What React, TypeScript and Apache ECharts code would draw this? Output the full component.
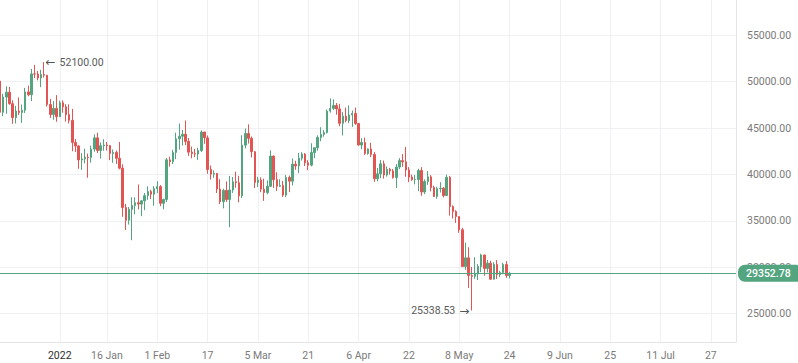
import React, { useEffect, useRef } from "react";
import * as echarts from "echarts";

const startDate = "2021-12-13";
const dayCount = 235;

const opens = [
  50053, 46702, 48336, 48864, 47632, 46133, 46835, 46681, 46915, 48896, 48588, 50838, 50820, 50400, 50775, 50701, 47543, 46464, 47120,
  46216, 47722, 47286, 46446, 45832, 43451, 43082, 41566, 41679, 41864, 41822, 42735, 43949, 42591, 43099, 43177, 43113, 42250, 42375, 41744, 40680, 36446, 35071, 36244, 36660, 36958, 36810, 37161, 37712, 38166, 37881,
  38466, 38694, 36896, 37311, 41571, 41382, 42380, 43840, 44118, 44339, 43565, 42408, 42244, 42197, 42586, 44578, 43938, 40552, 40030, 40122, 38431, 37069, 38286, 37296, 38328, 39219, 39116, 37699,
  43161, 44421, 43892, 42454, 39148, 39397, 38420, 38059, 38732, 41982, 39440, 38730, 38807, 37777, 39672, 39283, 41114, 40917, 41757, 42201, 41262, 41002, 42364, 42882, 43991, 44313, 44511, 46827, 47122, 47434, 47067,
  45510, 46283, 45811, 46407, 46580, 45497, 43170, 43444, 42252, 42753, 42158, 39530, 40075, 41147, 39942, 40552, 40378, 39678, 40801, 41494, 41371, 40481, 39710, 39442, 39450, 40427, 38112, 39236, 39743, 38597,
  37630, 38469, 38525, 37728, 39690, 36552, 36013, 35472, 34038, 30075, 31017, 29103, 29030, 29287, 30086, 31328, 29874, 30444, 28716, 30319, 29201, 29445, 30293, 29109,
];
const closes = [
  46702, 48343, 48864, 47632, 46131, 46834, 46681, 46915, 48896, 48588, 50838, 50820, 50400, 50775, 50701, 47543, 46464, 47120, 46216,
  47722, 47286, 46446, 45832, 43451, 43082, 41566, 41679, 41864, 41822, 42735, 43949, 42591, 43099, 43177, 43113, 42250, 42375, 41744, 40680, 36445, 35071, 36244, 36660, 36958, 36810, 37161, 37712, 38166, 37881, 38466,
  38694, 36896, 37311, 41575, 41382, 42380, 43840, 44118, 44339, 43565, 42407, 42244, 42197, 42586, 44575, 43961, 40538, 40030, 40122, 38431, 37075, 38286, 37296, 38328, 39219, 39116, 37699, 43160,
  44421, 43892, 42454, 39148, 39397, 38420, 38062, 38737, 41982, 39437, 38730, 38807, 37777, 39672, 39281, 41114, 40917, 41757, 42201, 41262, 41002, 42364, 42882, 43991, 44313, 44511, 46827, 47122, 47434, 47067, 45510,
  46283, 45811, 46407, 46580, 45497, 43170, 43444, 42252, 42753, 42158, 39530, 40074, 41147, 39942, 40551, 40378, 39678, 40801, 41493, 41358, 40480, 39710, 39442, 39450, 40427, 38112, 39236, 39742, 38597, 37630,
  38468, 38525, 37728, 39690, 36552, 36013, 35472, 34038, 30076, 31017, 29103, 29030, 29287, 30086, 31328, 29874, 30444, 28715, 30319, 29201, 29445, 30293, 29109, 29352.78,
];
const highs = [
  50189, 48700, 49500, 49436, 47995, 47392, 48300, 47537, 49328, 49576, 51375, 51810, 51156, 51281, 52100, 50704, 48139, 47900, 48548,
  47954, 47990, 47570, 47557, 47070, 43816, 43145, 42300, 42786, 42248, 43100, 44322, 44500, 43448, 43800, 43500, 43179, 42691, 42590, 43505, 41100, 36835, 36499, 37550, 37545, 38919, 37234, 38000, 38720, 38359, 38744,
  39265, 38855, 37387, 41772, 41913, 42656, 44500, 45492, 44798, 45821, 43920, 43000, 42760, 42876, 44751, 44578, 44200, 40960, 40443, 40145, 39494, 38470, 39249, 39843, 39727, 40300, 39855, 44226,
  44949, 45400, 44102, 42527, 39752, 39693, 39547, 39362, 42594, 42039, 40236, 39486, 39310, 39947, 39887, 41718, 41478, 42325, 42400, 42296, 41544, 43361, 42893, 44220, 45094, 44792, 46999, 48190, 48096, 47700, 47600,
  46720, 47213, 47444, 46890, 47200, 45507, 43900, 43970, 42800, 43410, 42414, 40699, 41561, 41500, 40870, 40709, 40595, 41116, 41760, 42199, 42976, 40795, 39980, 39940, 40616, 40797, 39474, 40372, 39925, 38795,
  38675, 39167, 38651, 39980, 39845, 36675, 36146, 35505, 34243, 32658, 32162, 30032, 31083, 30343, 31460, 31328, 30788, 30709, 30545, 30777, 29618, 30487, 30670, 29500,
];
const lows = [
  45672, 46290, 46547, 47511, 45456, 45500, 46406, 45558, 46630, 48421, 47920, 50384, 50142, 49412, 50449, 47313, 46096, 45900, 45678,
  46208, 46654, 45696, 45500, 42500, 42430, 40610, 40501, 41200, 39650, 41268, 42450, 42311, 41725, 42563, 42581, 41540, 41250, 41138, 40553, 35440, 34008, 34601, 32917, 35701, 36234, 35507, 36155, 37268, 37351, 36632,
  38000, 36586, 36250, 37026, 40843, 41116, 41645, 42666, 43117, 43174, 42000, 41748, 41870, 41570, 42428, 43310, 40073, 39450, 39639, 38000, 36800, 36350, 37036, 34322, 38014, 38573, 37000, 37451,
  42809, 43334, 41832, 38550, 38656, 38088, 37155, 37867, 38656, 38540, 38223, 38660, 37578, 37555, 38098, 38828, 40500, 40135, 41499, 40911, 40467, 40875, 41751, 42560, 43579, 44071, 44421, 46663, 46950, 46445, 45200,
  44200, 45620, 45530, 45118, 45353, 43121, 42727, 42107, 42125, 41869, 39200, 39254, 39589, 39551, 39766, 39991, 39546, 38536, 40571, 40820, 39751, 39178, 39312, 38929, 38200, 37702, 37881, 38881, 38175, 37578,
  37386, 38052, 37517, 37670, 35571, 35258, 34785, 33713, 30033, 29730, 27785, 25338.53, 28751, 28630, 29480, 29087, 29450, 28654, 28691, 28730, 28947, 29255, 28866, 28800,
];

const tickDates = [
  "2022-01-01", "2022-01-16", "2022-02-01", "2022-02-17", "2022-03-05", "2022-03-21", "2022-04-06",
  "2022-04-22", "2022-05-08", "2022-05-24", "2022-06-09", "2022-06-25", "2022-07-11", "2022-07-27",
];
const tickLabels = ["2022", "16 Jan", "1 Feb", "17", "5 Mar", "21", "6 Apr", "22", "8 May", "24", "9 Jun", "25", "11 Jul", "27"];
const priceTicks = [25000, 30000, 35000, 40000, 45000, 50000, 55000];
const lastPrice = 29352.78;
const highPoint = { date: "2021-12-27", value: 52100 };
const lowPoint = { date: "2022-05-12", value: 25338.53 };

const UP = "#53a57f";
const DOWN = "#e25553";
const FONT = "Roboto, sans-serif";
const FS = 10.5;

function buildDates(): string[] {
  const out: string[] = [];
  const [y, m, d] = startDate.split("-").map(Number);
  const t0 = Date.UTC(y, m - 1, d);
  for (let i = 0; i < dayCount; i++) {
    const dt = new Date(t0 + i * 86400000);
    const s = dt.getUTCFullYear() + "-" + String(dt.getUTCMonth() + 1).padStart(2, "0") + "-" + String(dt.getUTCDate()).padStart(2, "0");
    out.push(s);
  }
  return out;
}

export default function App() {
  const ref = useRef<HTMLDivElement>(null);
  useEffect(() => {
    if (!ref.current) return;
    const chart = echarts.init(ref.current, null, { renderer: "svg" });
    const dates = buildDates();
    const candles = opens.map((o, i) => [o, closes[i], lows[i], highs[i]]);
    const isTick = (idx: number, val: string) => tickDates.indexOf(val) >= 0;
    const arrowStyle = { fontFamily: "'DejaVu Sans', sans-serif", fontSize: 12, color: "#555555" };
    const annRich = {
      al: { ...arrowStyle, padding: [0, 4, 0, 0] },
      ar: { ...arrowStyle, padding: [0, 0, 0, 4] },
      t: { fontFamily: FONT, fontSize: FS, color: "#5a5a5a" },
    };
    chart.setOption({
      animation: false,
      grid: { left: 0, right: 62, top: 0, bottom: 21 },
      xAxis: {
        type: "category",
        data: dates,
        boundaryGap: false,
        axisLine: { show: true, lineStyle: { color: "#e3e5e9" } },
        axisTick: { show: false },
        axisLabel: {
          interval: isTick,
          formatter: (v: string) => tickLabels[tickDates.indexOf(v)],
          color: (v: string) => (v === "2022-01-01" ? "#2f2f2f" : "#7a7a7a"),
          fontFamily: FONT,
          fontSize: FS,
          margin: 8,
        },
        splitLine: { show: true, interval: isTick, lineStyle: { color: "#eef0f3", width: 1 } },
      },
      yAxis: {
        type: "value",
        position: "right",
        min: 21950,
        max: 58800,
        scale: true,
        axisLine: { show: true, lineStyle: { color: "#e3e5e9" } },
        axisTick: { show: false, customValues: priceTicks },
        axisLabel: {
          customValues: priceTicks,
          formatter: (v: number) => v.toFixed(2),
          color: "#7a7a7a",
          fontFamily: FONT,
          fontSize: FS,
          margin: 11,
        },
        splitLine: { show: true, lineStyle: { color: "#eef0f3", width: 1 } },
      },
      series: [
        {
          type: "candlestick",
          data: candles,
          barWidth: "62%",
          itemStyle: { color: UP, color0: DOWN, borderColor: UP, borderColor0: DOWN, borderWidth: 1 },
          markLine: {
            silent: true,
            symbol: ["none", "none"],
            data: [{ yAxis: lastPrice }],
            lineStyle: { color: UP, type: "solid", width: 1 },
            label: {
              show: true,
              position: "end",
              distance: 2,
              formatter: lastPrice.toFixed(2),
              color: "#ffffff",
              backgroundColor: UP,
              fontFamily: FONT,
              fontSize: FS,
              fontWeight: 500,
              lineHeight: 13,
              padding: [2, 8, 2, 8],
              borderRadius: [7, 2, 2, 7],
            },
          },
          markPoint: {
            silent: true,
            symbol: "circle",
            symbolSize: 1,
            itemStyle: { color: "rgba(0,0,0,0)" },
            data: [
              {
                coord: [highPoint.date, highPoint.value],
                label: { show: true, position: "right", distance: 1, formatter: "{al|←}{t|" + highPoint.value.toFixed(2) + "}", rich: annRich },
              },
              {
                coord: [lowPoint.date, lowPoint.value],
                label: { show: true, position: "left", distance: 2, formatter: "{t|" + lowPoint.value.toFixed(2) + "}{ar|→}", rich: annRich },
              },
            ],
          },
        },
      ],
    });
    return () => chart.dispose();
  }, []);
  return <div ref={ref} style={{ position: "fixed", left: 0, top: 0, width: 798, height: 363, background: "#ffffff" }} />;
}
